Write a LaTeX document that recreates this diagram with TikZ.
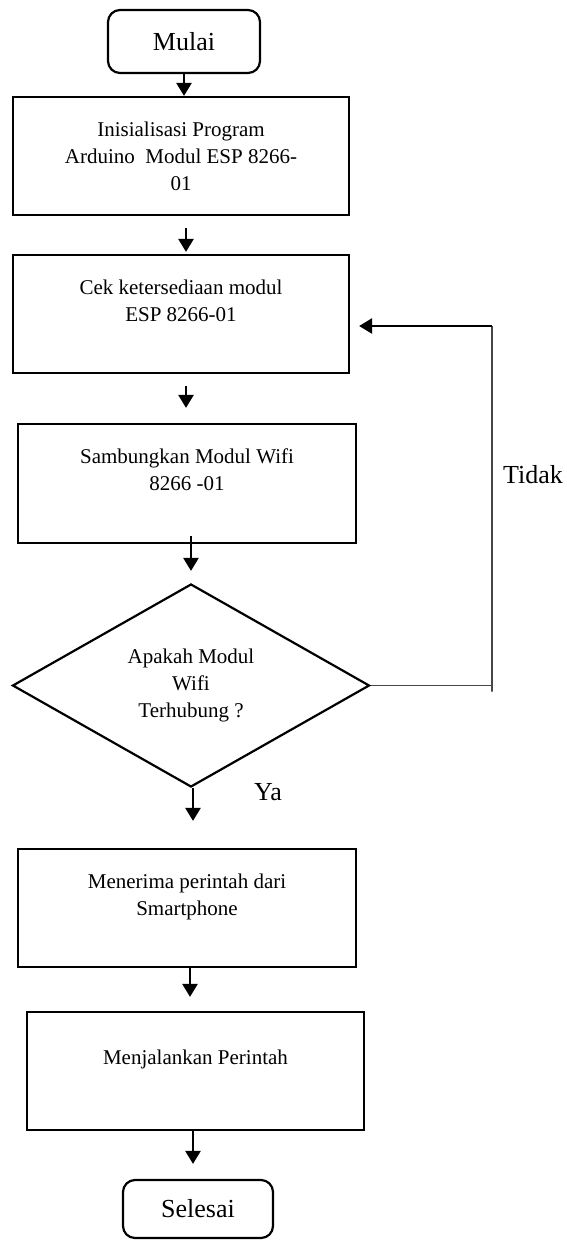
\documentclass[tikz,border=0pt]{standalone}
\usepackage{fontspec}
\setmainfont{Liberation Serif}
\usepackage{xcolor}
\definecolor{line_gray}{RGB}{70,70,70}
\usetikzlibrary{arrows.meta,shapes.geometric}

\begin{document}
\begin{tikzpicture}[x=1pt, y=-1pt,
  flow_box/.style={draw, line width=2.2pt, rectangle, align=center, inner sep=0pt, font=\fontsize{21}{27}\selectfont},
  end_box/.style={draw, line width=2.2pt, rounded corners=12pt, inner sep=0pt, font=\fontsize{26}{31}\selectfont},
  big_text/.style={inner sep=0pt, font=\fontsize{26}{31}\selectfont},
  flow_arrow/.style={line width=2.5pt, -{Triangle[length=13pt, width=15pt]}},
  back_line/.style={line width=1.3pt, draw=line_gray}]
\useasboundingbox (0,0) rectangle (566,1240);

\node[end_box, minimum width=152pt, minimum height=63pt] (mulai) at (184,41.5) {Mulai};
\node[flow_box, minimum width=336pt, minimum height=118pt] (init) at (181,156) {Inisialisasi Program\\Arduino\ \ Modul ESP 8266-\\01};
\node[flow_box, minimum width=336pt, minimum height=118pt] (cek) at (181,314) {Cek ketersediaan modul\\ESP 8266-01\\~};
\node[flow_box, minimum width=338pt, minimum height=119pt] (samb) at (187,483.5) {Sambungkan Modul Wifi\\8266 -01\\~};
\node[flow_box, diamond, minimum width=357pt, minimum height=203pt] (cond) at (191,685.5) {Apakah Modul\\Wifi\\Terhubung ?};
\node[flow_box, minimum width=338pt, minimum height=118pt] (terima) at (187,908) {Menerima perintah dari\\Smartphone\\~};
\node[flow_box, minimum width=337pt, minimum height=118pt] (jalan) at (195.5,1071) {Menjalankan Perintah\\~};
\node[end_box, minimum width=150pt, minimum height=58pt] (selesai) at (198,1209) {Selesai};

\node[big_text] (tidak) at (533,475) {Tidak};
\node[big_text] (ya) at (268,792) {Ya};

% main flow
\draw[flow_arrow] (mulai.south) -- (mulai.south |- init.north);
\draw[flow_arrow, shorten <=12pt, shorten >=2pt] ([xshift=5pt]init.south) -- ([xshift=5pt]init.south |- cek.north);
\draw[flow_arrow, shorten <=12pt, shorten >=15pt] ([xshift=5pt]cek.south) -- ([xshift=5pt]cek.south |- samb.north);
\draw[flow_arrow, shorten <=-8pt, shorten >=12pt] ([xshift=4pt]samb.south) -- ([xshift=4pt]samb.south |- cond.north);
\draw[flow_arrow, shorten >=27pt] ([xshift=2pt]cond.south) -- ([xshift=2pt]cond.south |- terima.north);
\draw[flow_arrow, shorten <=0pt, shorten >=14pt] ([xshift=3pt]terima.south) -- ([xshift=3pt]terima.south |- jalan.north);
\draw[flow_arrow, shorten >=15pt] ([xshift=-2.5pt]jalan.south) -- ([xshift=-2.5pt]jalan.south |- selesai.north);

% loop back
\coordinate (back_corner) at (492,326);
\draw[back_line] (cond.east) -| ([yshift=-6pt]cond.east -| back_corner) -- (back_corner);
\draw[flow_arrow, shorten >=9pt] (back_corner) -- (back_corner -| cek.east);

\end{tikzpicture}
\end{document}
